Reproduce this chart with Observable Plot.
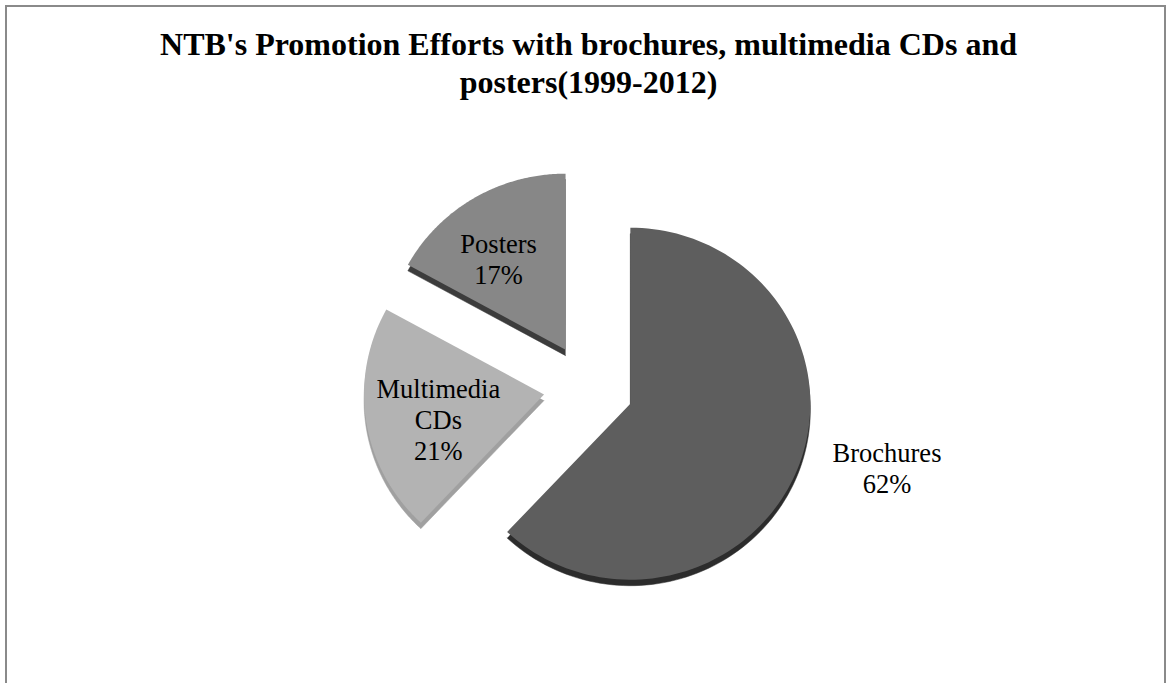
<!DOCTYPE html>
<html>
<head>
<meta charset="utf-8">
<script src="https://cdn.jsdelivr.net/npm/d3@7"></script>
<script src="https://cdn.jsdelivr.net/npm/@observablehq/plot@0.6"></script>
<style>
  html, body { margin: 0; padding: 0; background: #fff; overflow: hidden; }
  #frame {
    position: absolute; left: 5px; top: 5px; width: 1157px; height: 700px;
    border-top: 2px solid #8a8a8a; border-left: 2px solid #8a8a8a; border-right: 2px solid #8a8a8a;
    background: #fff;
  }
  #title {
    font-family: "Liberation Serif", "Times New Roman", serif; font-weight: bold;
    font-size: 32px; line-height: 38px; text-align: center; color: #000;
    padding-top: 18px; padding-left: 6px; height: 105px; box-sizing: content-box;
  }
  #chart svg { display: block; }
</style>
</head>
<body>
<div id="frame">
  <div id="title">NTB's Promotion Efforts with brochures, multimedia CDs and<br>posters(1999-2012)</div>
  <div id="chart"></div>
</div>
<script>
// ---- data ----
const categories = ["Brochures", "Multimedia CDs", "Posters"];
const shares = [62, 21, 17];
const labelLines = ["Brochures\n62%", "Multimedia\nCDs\n21%", "Posters\n17%"];
const topColors = ["#5e5e5e", "#b3b3b3", "#878787"];
const sideColors = ["#2c2c2c", "#a0a0a0", "#3c3c3c"];

// ---- layout (svg pixel units) ----
const W = 1157, H = 560;
const cx = 581, cy = 257, rx = 180, ry = 176, explode = 45, depth = 6;

const arcs = d3.pie().sort(null).value(d => d)(shares);
const pt = (a, r, ox, oy) => [ox + rx * r * Math.sin(a), oy - ry * r * Math.cos(a)];

const tops = [], sides = [], labels = [];
arcs.forEach((a, i) => {
  const mid = (a.startAngle + a.endAngle) / 2;
  const [ax, ay] = pt(mid, explode / rx, cx, cy);
  const n = 120;
  const poly = [[ax, ay]];
  for (let k = 0; k <= n; k++) {
    const t = a.startAngle + (a.endAngle - a.startAngle) * k / n;
    poly.push(pt(t, 1, ax, ay));
  }
  poly.forEach(([x, y], k) => {
    tops.push({key: categories[i], x, y, color: topColors[i], k});
    sides.push({key: categories[i], x, y: y + depth, color: sideColors[i], k});
  });
  const inside = shares[i] < 50;
  const [lx, ly] = pt(mid, inside ? 0.6 : 1.42, ax, ay);
  labels.push({key: categories[i], x: lx, y: ly, text: labelLines[i], inside});
});

const textStyle = {x: "x", y: "y", text: "text", fontSize: 26.5, fontFamily: "Liberation Serif", lineHeight: 1.17, fill: "#000"};

const chart = Plot.plot({
  width: W, height: H,
  margin: 0,
  x: {domain: [0, W], range: [0, W], axis: null},
  y: {domain: [0, H], range: [0, H], axis: null},
  color: {type: "identity"},
  style: {background: "transparent", overflow: "visible"},
  marks: [
    Plot.line(sides, {x: "x", y: "y", z: "key", fill: "color", stroke: "color", strokeWidth: 0.5, curve: "linear"}),
    Plot.line(tops, {x: "x", y: "y", z: "key", fill: "color", stroke: "none", curve: "linear"}),
    Plot.text(labels.filter(d => d.key === "Posters"), {...textStyle, dx: -12, dy: 0}),
    Plot.text(labels.filter(d => d.key === "Multimedia CDs"), {...textStyle, dx: 1, dy: 8}),
    Plot.text(labels.filter(d => !d.inside), {...textStyle, dx: 19, dy: -28})
  ]
});
document.getElementById("chart").appendChild(chart);
</script>
</body>
</html>
